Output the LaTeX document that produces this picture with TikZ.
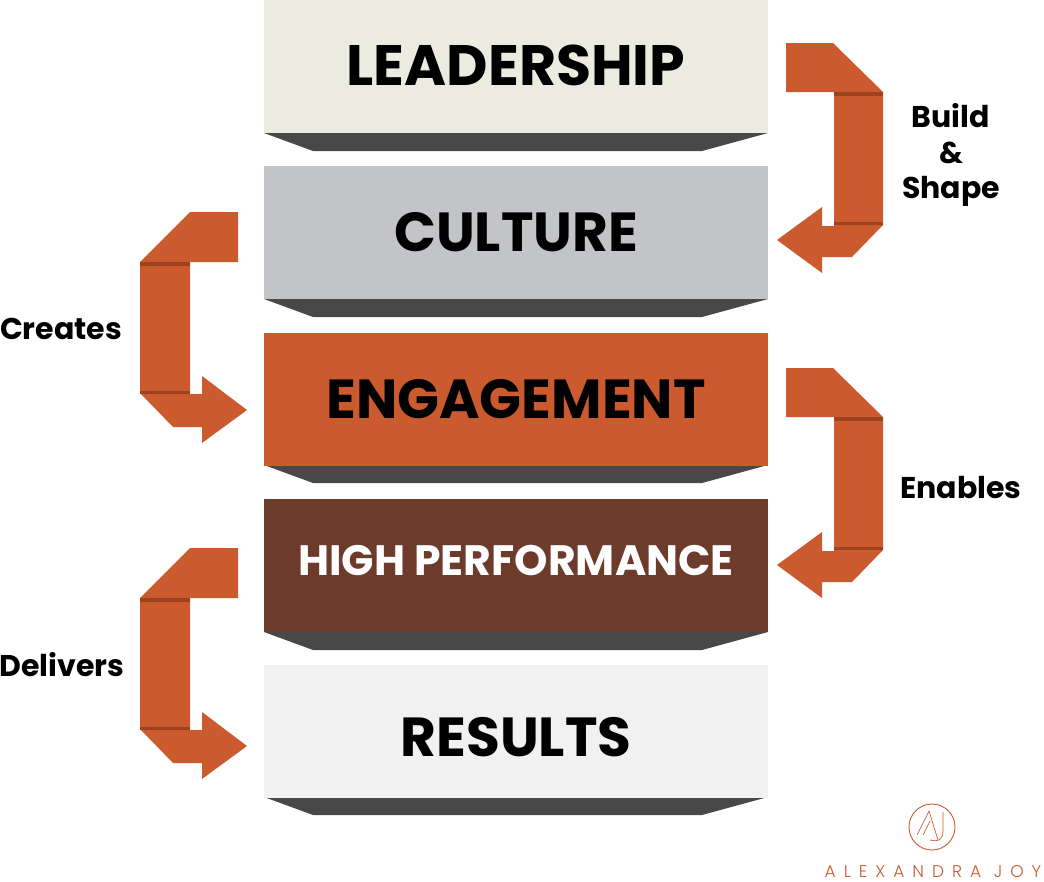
\documentclass[tikz,border=0pt]{standalone}
\usepackage{fontspec}
\setmainfont{Poppins}
\newfontfamily\logofont[LetterSpace=47]{Poppins Light}
\definecolor{rust}{HTML}{CB5A2E}
\definecolor{rustdark}{HTML}{9C4220}
\definecolor{shadowgrey}{HTML}{484848}
\definecolor{cream}{HTML}{ECEBDF}
\definecolor{silver}{HTML}{C3C4C7}
\definecolor{brown}{HTML}{6C3B2B}
\definecolor{pale}{HTML}{F1F1F1}
\tikzset{
	layer/.style={rectangle,draw=none,minimum width=504pt,minimum height=133pt,inner sep=0pt},
	layertext/.style={anchor=base,inner sep=0pt,text=black,font=\bfseries\fontsize{55}{55}\selectfont},
	sidelabel/.style={anchor=base,inner sep=0pt,text=black,font=\bfseries\fontsize{30}{30}\selectfont},
	foldright/.pic={
		\fill[rust] (786,0) -- (833,0) -- (883,49) -- (883,182) -- (852,214) -- (822,214) -- (822,230) -- (777,197) -- (822,164) -- (822,183) -- (834,183) -- (834,49) -- (786,49) -- cycle;
		\fill[rustdark] (834,49) rectangle (883,53);
		\fill[rustdark] (834,179) rectangle (883,182);
	},
	foldleft/.pic={
		\fill[rust] (238,0) -- (190,0) -- (140,50) -- (140,181) -- (173,215) -- (202,215) -- (202,231) -- (247,198) -- (202,164) -- (202,182) -- (190,182) -- (190,50) -- (238,50) -- cycle;
		\fill[rustdark] (140,50) rectangle (190,54);
		\fill[rustdark] (140,179) rectangle (190,182);
	}
}
\begin{document}
\begin{tikzpicture}[x=1pt,y=-1pt]
	\useasboundingbox (0,0) rectangle (1044,881);

	\foreach \top in {133,299,465,632,797}
		\fill[shadowgrey] (264,\top) -- (768,\top) -- (702,\top+18) -- (313,\top+18) -- cycle;

	\node[layer,fill=cream] (leadership) at (516,66.5) {};
	\node[layer,fill=silver] (culture) at (516,232.5) {};
	\node[layer,fill=rust] (engagement) at (516,399) {};
	\node[layer,fill=brown] (performance) at (516,565.5) {};
	\node[layer,fill=pale] (results) at (516,731) {};

	\node[layertext,font=\bfseries\fontsize{57}{57}\selectfont] (leadershiptext) at (516,85) {LEADERSHIP};
	\node[layertext] (culturetext) at (516,251) {CULTURE};
	\node[layertext] (engagementtext) at (516,418) {ENGAGEMENT};
	\node[layertext,text=white,font=\bfseries\fontsize{42.5}{42.5}\selectfont] (performancetext) at (516,575) {HIGH PERFORMANCE};
	\node[layertext] (resultstext) at (516,756) {RESULTS};

	\pic at (0,43) {foldright};
	\pic at (0,368) {foldright};
	\pic at (0,212) {foldleft};
	\pic at (0,548) {foldleft};

	\node[sidelabel] (build) at (951,127) {Build};
	\node[sidelabel] (amp) at (951,163) {\&};
	\node[sidelabel] (shape) at (951,198) {Shape};
	\node[sidelabel] (creates) at (61,339) {Creates};
	\node[sidelabel] (enables) at (961,498) {Enables};
	\node[sidelabel] (delivers) at (62,676) {Delivers};

	\node[circle,draw=rust,line width=0.9pt,minimum size=46pt,inner sep=0pt] (logo) at (932,827) {};
	\draw[rust,line width=0.7pt] (917,835) -- (929,811) -- (938,840);
	\draw[rust,line width=0.7pt] (923,835) -- (930,821);
	\draw[rust,line width=0.7pt] (943,812) -- (943,831) .. controls (943,841) and (936,842) .. (930,840);
	\node[anchor=base,inner sep=0pt,text=rust,font=\logofont\fontsize{17}{17}\selectfont] (brand) at (933,877) {ALEXANDRA JOY};
\end{tikzpicture}
\end{document}
